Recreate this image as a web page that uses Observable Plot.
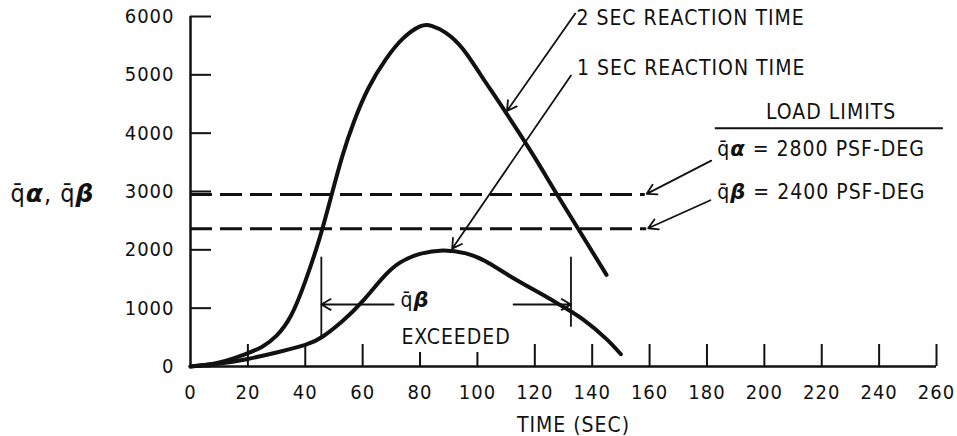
<!DOCTYPE html>
<html><head><meta charset="utf-8">
<script src="https://cdn.jsdelivr.net/npm/d3@7"></script>
<script src="https://cdn.jsdelivr.net/npm/@observablehq/plot@0.6"></script>
<style>
html,body{margin:0;padding:0;background:#fff;}
svg text{letter-spacing:1px;}
</style></head><body><div id="chart"></div>
<script>
// 2 SEC reaction time curve (time in sec, q-alpha/q-beta in psf-deg)
const timeA  = [0, 5, 10, 15, 20, 25, 30, 35, 40, 45, 49, 53, 57, 62, 68, 74, 80, 84, 89, 95, 101, 107, 113, 120, 127, 135, 145];
const valueA = [0, 25, 70, 140, 230, 340, 530, 870, 1460, 2200, 2910, 3620, 4200, 4770, 5260, 5620, 5830, 5840, 5720, 5440, 5010, 4570, 4120, 3580, 3010, 2370, 1570];
// 1 SEC reaction time curve
const timeB  = [0, 10, 20, 30, 40, 46, 53, 60, 67, 73, 80, 88, 96, 103, 112, 122, 129, 137, 145, 150];
const valueB = [0, 50, 130, 240, 370, 510, 780, 1120, 1520, 1780, 1930, 1990, 1940, 1800, 1530, 1250, 1050, 800, 470, 210];

const xTickLabels = [0, 20, 40, 60, 80, 100, 120, 140, 160, 180, 200, 220, 240, 260];
const xTicksLong  = [20, 40, 60, 120, 140, 160, 180, 200, 220, 240, 260];
const xTicksShort = [80, 100];
const yTicks = [0, 1000, 2000, 3000, 4000, 5000, 6000];

// load limit lines as drawn
const limitValues = [2950, 2360];
const limitEnd = [158.5, 159];

// annotation leaders (data units)
const leaderX1 = [134.1, 132.6, 181.5, 181.2, 70.8, 112.6];
const leaderY1 = [6050, 4990, 3530, 2850, 1063, 1063];
const leaderX2 = [110.3, 91.2, 159, 159.5, 45.6, 132.6];
const leaderY2 = [4380, 2020, 2960, 2370, 1063, 1063];

const exceedX = [45.6, 132.6];
const exceedY1 = [497, 674];
const exceedY2 = [1874, 1874];

const labelTexts = ["2 SEC REACTION TIME", "1 SEC REACTION TIME", "q̄α = 2800 PSF-DEG", "q̄β = 2400 PSF-DEG", "q̄β", "EXCEEDED"];
const labelX = [134.5, 134.7, 183.6, 183.6, 73.2, 73.5];
const labelY = [5966, 5109, 3720, 2983, 1131, 497];
const loadTitle = "LOAD LIMITS";
const loadTitleX = 223.3, loadTitleY = 4354;
const loadRule = {y: 4086, x1: 182.9, x2: 262.4};

const curveA = timeA.map((t, i) => ({t, v: valueA[i]}));
const curveB = timeB.map((t, i) => ({t, v: valueB[i]}));
const limits = limitValues.map((v, i) => ({v, x2: limitEnd[i]}));
const leaders = leaderX1.map((x1, i) => ({x1, y1: leaderY1[i], x2: leaderX2[i], y2: leaderY2[i]}));
const exceed = exceedX.map((x, i) => ({x, y1: exceedY1[i], y2: exceedY2[i]}));
const labels = labelTexts.map((text, i) => ({text, x: labelX[i], y: labelY[i]}));

const ink = "#111";
const font = "DejaVu Sans Condensed";

const chart = Plot.plot({
  width: 957,
  height: 436,
  marginLeft: 190,
  marginRight: 21,
  marginTop: 16,
  marginBottom: 70,
  style: {background: "#fff", color: ink, fontFamily: font, fontSize: "20px"},
  x: {domain: [0, 260], axis: null},
  y: {domain: [0, 6000], axis: null},
  marks: [
    // axis lines
    Plot.ruleX([0], {stroke: ink, strokeWidth: 2.5}),
    Plot.ruleY([0], {stroke: ink, strokeWidth: 2.5}),
    // inward ticks
    Plot.axisY({ticks: yTicks, anchor: "left", tickSize: -21, fill: "none", label: null, stroke: ink, strokeWidth: 2}),
    Plot.axisY({ticks: yTicks, anchor: "left", tickSize: 0, tickPadding: 16, tickFormat: d => String(d), label: null, fill: ink, fontSize: 20}),
    Plot.axisX({ticks: xTicksLong, anchor: "bottom", tickSize: -22, fill: "none", label: null, stroke: ink, strokeWidth: 2}),
    Plot.axisX({ticks: xTicksShort, anchor: "bottom", tickSize: -14, fill: "none", label: null, stroke: ink, strokeWidth: 2}),
    Plot.axisX({ticks: xTickLabels, anchor: "bottom", tickSize: 0, tickPadding: 18, tickFormat: d => String(d), label: null, fill: ink, fontSize: 20}),
    Plot.text(["TIME (SEC)"], {frameAnchor: "bottom", dx: 10, dy: 65, fontSize: 21, fill: ink}),
    Plot.text(["q̄α, q̄β"], {frameAnchor: "left", dx: -180, dy: 2, textAnchor: "start", fontSize: 25, fill: ink}),
    // load limit dashed lines
    Plot.ruleY(limits, {y: "v", x1: 0, x2: "x2", stroke: ink, strokeWidth: 3, strokeDasharray: "22,8"}),
    // curves
    Plot.line(curveA, {x: "t", y: "v", curve: "natural", stroke: ink, strokeWidth: 4}),
    Plot.line(curveB, {x: "t", y: "v", curve: "natural", stroke: ink, strokeWidth: 4}),
    // annotations
    Plot.arrow(leaders, {x1: "x1", y1: "y1", x2: "x2", y2: "y2", bend: 0, headLength: 9, stroke: ink, strokeWidth: 1.8}),
    Plot.ruleX(exceed, {x: "x", y1: "y1", y2: "y2", stroke: ink, strokeWidth: 1.8}),
    Plot.ruleY([loadRule], {y: "y", x1: "x1", x2: "x2", stroke: ink, strokeWidth: 2}),
    Plot.text(labels, {x: "x", y: "y", text: "text", textAnchor: "start", fontSize: 21, fill: ink}),
    Plot.text([loadTitle], {x: () => loadTitleX, y: () => loadTitleY, fontSize: 21, fill: ink})
  ]
});

// Greek letters bold italic as in the original lettering
chart.querySelectorAll("text").forEach(el => {
  const s = el.textContent;
  if (!/[αβ]/.test(s) || el.children.length) return;
  el.textContent = "";
  for (const part of s.split(/([αβ])/)) {
    if (!part) continue;
    const ts = document.createElementNS("http://www.w3.org/2000/svg", "tspan");
    ts.textContent = part;
    if (part === "α" || part === "β") {
      ts.setAttribute("font-weight", "bold");
      ts.setAttribute("font-style", "italic");
      ts.setAttribute("font-family", "DejaVu Sans");
    }
    el.appendChild(ts);
  }
});

document.getElementById("chart").appendChild(chart);
</script></body></html>
